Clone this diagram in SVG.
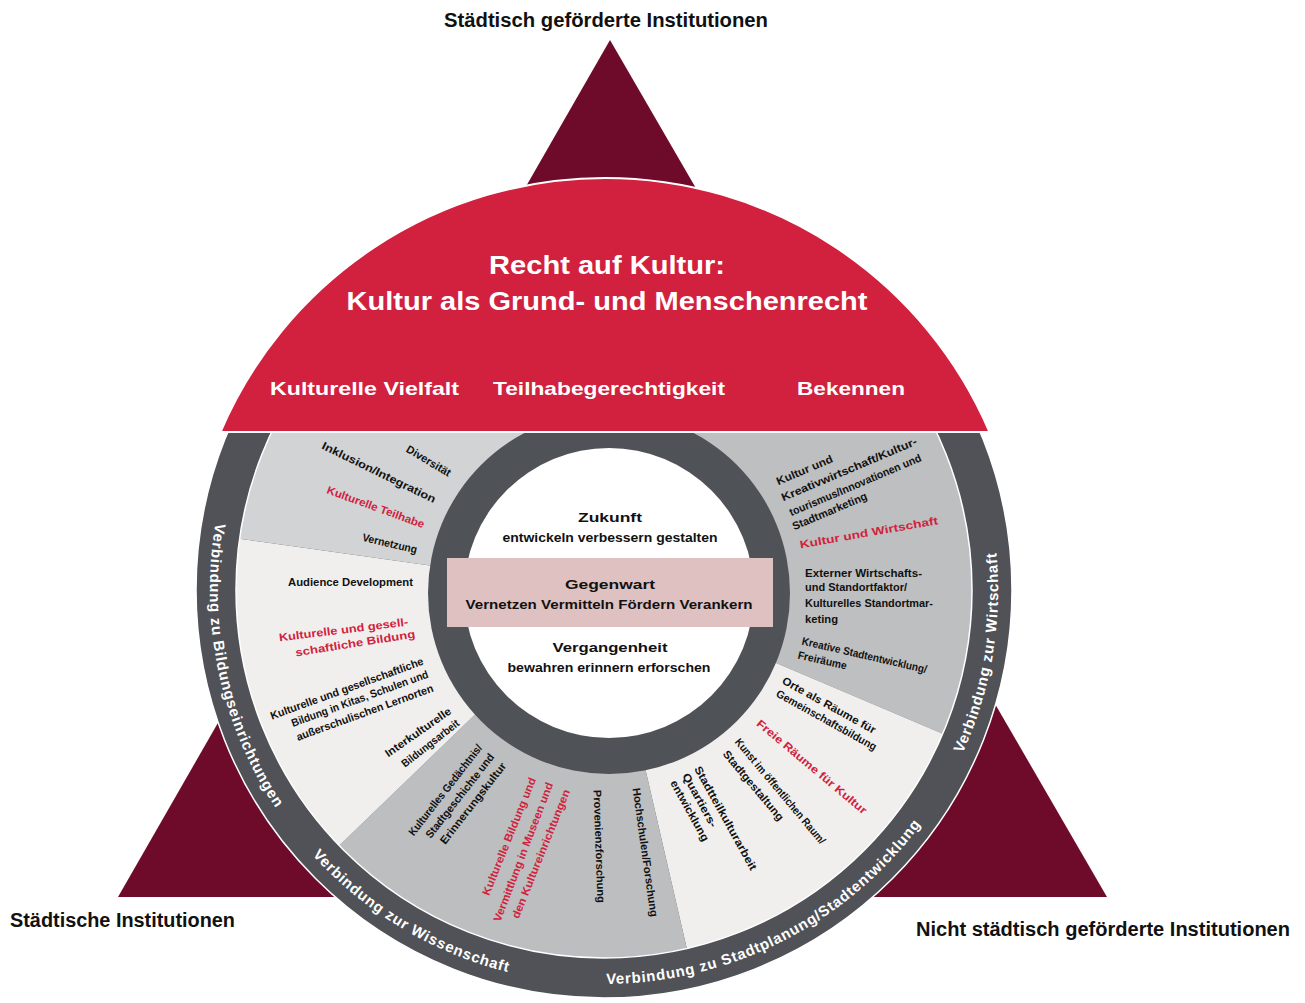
<svg xmlns="http://www.w3.org/2000/svg" width="1305" height="1003" viewBox="0 0 1305 1003">
<style>
.t{font-family:"Liberation Sans",Arial,sans-serif;font-weight:bold}
.s{font-size:11px;fill:#111}
.r{fill:#d2213e}
.w{fill:#fff}
.c{font-size:13px;fill:#111;text-anchor:middle}
.lab{font-size:20px;fill:#111}
.ring{font-size:15px;fill:#fff;letter-spacing:0.8px}
</style>
<defs>
<path id="ringPath" d="M 604,196 A 394 394 0 1 0 604,984 A 394 394 0 1 0 604,196"/>
</defs>
<rect width="1305" height="1003" fill="#fff"/>

<g id="triangle">
<polygon points="610,40 118,897 1107,897" fill="#6e0b2b"/>
</g>

<g id="outer-ring">
<circle cx="604" cy="590" r="408" fill="#505257" stroke="#fff" stroke-width="1.5"/>
</g>

<g id="segments">
<path d="M604,590 L604,222 A368 368 0 0 1 942.7,733.8 Z" fill="#bdbfc0"/>
<path d="M604,590 L942.7,733.8 A368 368 0 0 1 686.8,948.6 Z" fill="#f0efed"/>
<path d="M604,590 L686.8,948.6 A368 368 0 0 1 339.3,845.6 Z" fill="#bcbebf"/>
<path d="M604,590 L339.3,845.6 A368 368 0 0 1 239.6,538.8 Z" fill="#f0efed"/>
<path d="M604,590 L239.6,538.8 A368 368 0 0 1 604,222 Z" fill="#d1d3d4"/>
<circle cx="604" cy="590" r="368" fill="none" stroke="#fff" stroke-width="1.5"/>
</g>

<g id="center">
<circle cx="609" cy="593" r="181" fill="#4f5256"/>
<circle cx="609" cy="593" r="145" fill="#fff"/>
<rect x="447" y="558" width="326" height="69" fill="#dfc1c1"/>
<text class="t c" x="610" y="522" textLength="64" lengthAdjust="spacingAndGlyphs">Zukunft</text>
<text class="t c" x="610" y="542" textLength="215" lengthAdjust="spacingAndGlyphs">entwickeln  verbessern  gestalten</text>
<text class="t c" x="610" y="589" textLength="90" lengthAdjust="spacingAndGlyphs">Gegenwart</text>
<text class="t c" x="609" y="609" textLength="287" lengthAdjust="spacingAndGlyphs">Vernetzen  Vermitteln  Fördern  Verankern</text>
<text class="t c" x="610" y="652" textLength="115" lengthAdjust="spacingAndGlyphs">Vergangenheit</text>
<text class="t c" x="609" y="672" textLength="203" lengthAdjust="spacingAndGlyphs">bewahren  erinnern  erforschen</text>
</g>

<g id="dome">
<path d="M220.5,432 A418 418 0 0 1 989.5,432 Z" fill="#d2213e" stroke="#fff" stroke-width="2"/>
<text class="t w" x="607" y="274" font-size="26" text-anchor="middle" textLength="236" lengthAdjust="spacingAndGlyphs">Recht auf Kultur:</text>
<text class="t w" x="607" y="310" font-size="26" text-anchor="middle" textLength="521" lengthAdjust="spacingAndGlyphs">Kultur als Grund- und Menschenrecht</text>
<text class="t w" x="270" y="395" font-size="19" textLength="189" lengthAdjust="spacingAndGlyphs">Kulturelle Vielfalt</text>
<text class="t w" x="493" y="395" font-size="19" textLength="232" lengthAdjust="spacingAndGlyphs">Teilhabegerechtigkeit</text>
<text class="t w" x="797" y="395" font-size="19" textLength="108" lengthAdjust="spacingAndGlyphs">Bekennen</text>
</g>

<g id="ring-labels">
<text class="t ring"><textPath href="#ringPath" startOffset="701" text-anchor="middle">Verbindung zu Bildungseinrichtungen</textPath></text>
<text class="t ring"><textPath href="#ringPath" startOffset="1025" text-anchor="middle">Verbindung zur Wissenschaft</textPath></text>
<text class="t ring"><textPath href="#ringPath" startOffset="1423" text-anchor="middle">Verbindung zu Stadtplanung/Stadtentwicklung</textPath></text>
<text class="t ring"><textPath href="#ringPath" startOffset="1791" text-anchor="middle">Verbindung zur Wirtschaft</textPath></text>
</g>

<g id="seg-vielfalt">
<text class="t s" transform="translate(450,474) rotate(31)" y="3.5" text-anchor="end" textLength="50" lengthAdjust="spacingAndGlyphs">Diversität</text>
<text class="t s" transform="translate(435,500) rotate(26)" y="3.5" text-anchor="end" textLength="125" lengthAdjust="spacingAndGlyphs">Inklusion/Integration</text>
<text class="t s r" transform="translate(424,525) rotate(20)" y="3.5" text-anchor="end" textLength="103" lengthAdjust="spacingAndGlyphs">Kulturelle Teilhabe</text>
<text class="t s" transform="translate(417,550) rotate(13)" y="3.5" text-anchor="end" textLength="56" lengthAdjust="spacingAndGlyphs">Vernetzung</text>
</g>

<g id="seg-bildung">
<text class="t s" transform="translate(413,582)" y="3.5" text-anchor="end" textLength="125" lengthAdjust="spacingAndGlyphs">Audience Development</text>
<text class="t s r" transform="translate(408,622) rotate(-7)" y="3.5" text-anchor="end" textLength="130" lengthAdjust="spacingAndGlyphs">Kulturelle und gesell-</text>
<text class="t s r" transform="translate(415,634) rotate(-9)" y="3.5" text-anchor="end" textLength="121" lengthAdjust="spacingAndGlyphs">schaftliche Bildung</text>
<text class="t s" transform="translate(423,661) rotate(-20)" y="3.5" text-anchor="end" textLength="162" lengthAdjust="spacingAndGlyphs">Kulturelle und gesellschaftliche</text>
<text class="t s" transform="translate(428,674) rotate(-20)" y="3.5" text-anchor="end" textLength="145" lengthAdjust="spacingAndGlyphs">Bildung in Kitas, Schulen und</text>
<text class="t s" transform="translate(433,688) rotate(-20)" y="3.5" text-anchor="end" textLength="145" lengthAdjust="spacingAndGlyphs">außerschulischen Lernorten</text>
<text class="t s" transform="translate(450,710) rotate(-35)" y="3.5" text-anchor="end" textLength="78" lengthAdjust="spacingAndGlyphs">Interkulturelle</text>
<text class="t s" transform="translate(458,722) rotate(-38)" y="3.5" text-anchor="end" textLength="70" lengthAdjust="spacingAndGlyphs">Bildungsarbeit</text>
</g>

<g id="seg-wissenschaft">
<text class="t s" transform="translate(480,746) rotate(-52)" y="3.5" text-anchor="end" textLength="112" lengthAdjust="spacingAndGlyphs">Kulturelles Gedächtnis/</text>
<text class="t s" transform="translate(492,755) rotate(-52)" y="3.5" text-anchor="end" textLength="104" lengthAdjust="spacingAndGlyphs">Stadtgeschichte und</text>
<text class="t s" transform="translate(504,764) rotate(-52)" y="3.5" text-anchor="end" textLength="100" lengthAdjust="spacingAndGlyphs">Erinnerungskultur</text>
<text class="t s r" transform="translate(533,778) rotate(-68)" y="3.5" text-anchor="end" textLength="126" lengthAdjust="spacingAndGlyphs">Kulturelle Bildung und</text>
<text class="t s r" transform="translate(550,783) rotate(-69)" y="3.5" text-anchor="end" textLength="148" lengthAdjust="spacingAndGlyphs">Vermittlung in Museen und</text>
<text class="t s r" transform="translate(567,790) rotate(-68)" y="3.5" text-anchor="end" textLength="138" lengthAdjust="spacingAndGlyphs">den Kultureinrichtungen</text>
<text class="t s" transform="translate(597,790) rotate(88)" y="3.5" textLength="113" lengthAdjust="spacingAndGlyphs">Provenienzforschung</text>
<text class="t s" transform="translate(636,788) rotate(82)" y="3.5" textLength="130" lengthAdjust="spacingAndGlyphs">Hochschulen/Forschung</text>
</g>

<g id="seg-stadt">
<text class="t s" transform="translate(697,767) rotate(61)" y="3.5" textLength="117" lengthAdjust="spacingAndGlyphs">Stadtteilkulturarbeit</text>
<text class="t s" transform="translate(685,774) rotate(61)" y="3.5" textLength="60" lengthAdjust="spacingAndGlyphs">Quartiers-</text>
<text class="t s" transform="translate(673,781) rotate(61)" y="3.5" textLength="68" lengthAdjust="spacingAndGlyphs">entwicklung</text>
<text class="t s" transform="translate(737,740) rotate(50)" y="3.5" textLength="134" lengthAdjust="spacingAndGlyphs">Kunst im öffentlichen Raum/</text>
<text class="t s" transform="translate(725,752) rotate(50)" y="3.5" textLength="88" lengthAdjust="spacingAndGlyphs">Stadtgestaltung</text>
<text class="t s r" transform="translate(758,722) rotate(40)" y="3.5" textLength="140" lengthAdjust="spacingAndGlyphs">Freie Räume für Kultur</text>
<text class="t s" transform="translate(783,680) rotate(29)" y="3.5" textLength="105" lengthAdjust="spacingAndGlyphs">Orte als Räume für</text>
<text class="t s" transform="translate(777,693) rotate(29)" y="3.5" textLength="113" lengthAdjust="spacingAndGlyphs">Gemeinschaftsbildung</text>
</g>

<g id="seg-wirtschaft">
<text class="t s" transform="translate(777,482) rotate(-23)" y="3.5" textLength="60" lengthAdjust="spacingAndGlyphs">Kultur und</text>
<text class="t s" transform="translate(782,498) rotate(-23)" y="3.5" textLength="146" lengthAdjust="spacingAndGlyphs">Kreativwirtschaft/Kultur-</text>
<text class="t s" transform="translate(790,513) rotate(-23)" y="3.5" textLength="142" lengthAdjust="spacingAndGlyphs">tourismus/Innovationen und</text>
<text class="t s" transform="translate(793,527) rotate(-23)" y="3.5" textLength="80" lengthAdjust="spacingAndGlyphs">Stadtmarketing</text>
<text class="t s r" transform="translate(800,545) rotate(-10)" y="3.5" textLength="140" lengthAdjust="spacingAndGlyphs">Kultur und Wirtschaft</text>
<text class="t s" x="805" y="577" textLength="117" lengthAdjust="spacingAndGlyphs">Externer Wirtschafts-</text>
<text class="t s" x="805" y="591" textLength="102" lengthAdjust="spacingAndGlyphs">und Standortfaktor/</text>
<text class="t s" x="805" y="607" textLength="128" lengthAdjust="spacingAndGlyphs">Kulturelles Standortmar-</text>
<text class="t s" x="805" y="623" textLength="33" lengthAdjust="spacingAndGlyphs">keting</text>
<text class="t s" transform="translate(802,641) rotate(13)" y="3.5" textLength="128" lengthAdjust="spacingAndGlyphs">Kreative Stadtentwicklung/</text>
<text class="t s" transform="translate(798,655) rotate(13)" y="3.5" textLength="50" lengthAdjust="spacingAndGlyphs">Freiräume</text>
</g>

<g id="labels">
<text class="t lab" x="606" y="27" text-anchor="middle" textLength="324" lengthAdjust="spacingAndGlyphs">Städtisch geförderte Institutionen</text>
<text class="t lab" x="10" y="927" textLength="225" lengthAdjust="spacingAndGlyphs">Städtische Institutionen</text>
<text class="t lab" x="916" y="936" textLength="374" lengthAdjust="spacingAndGlyphs">Nicht städtisch geförderte Institutionen</text>
</g>
</svg>
